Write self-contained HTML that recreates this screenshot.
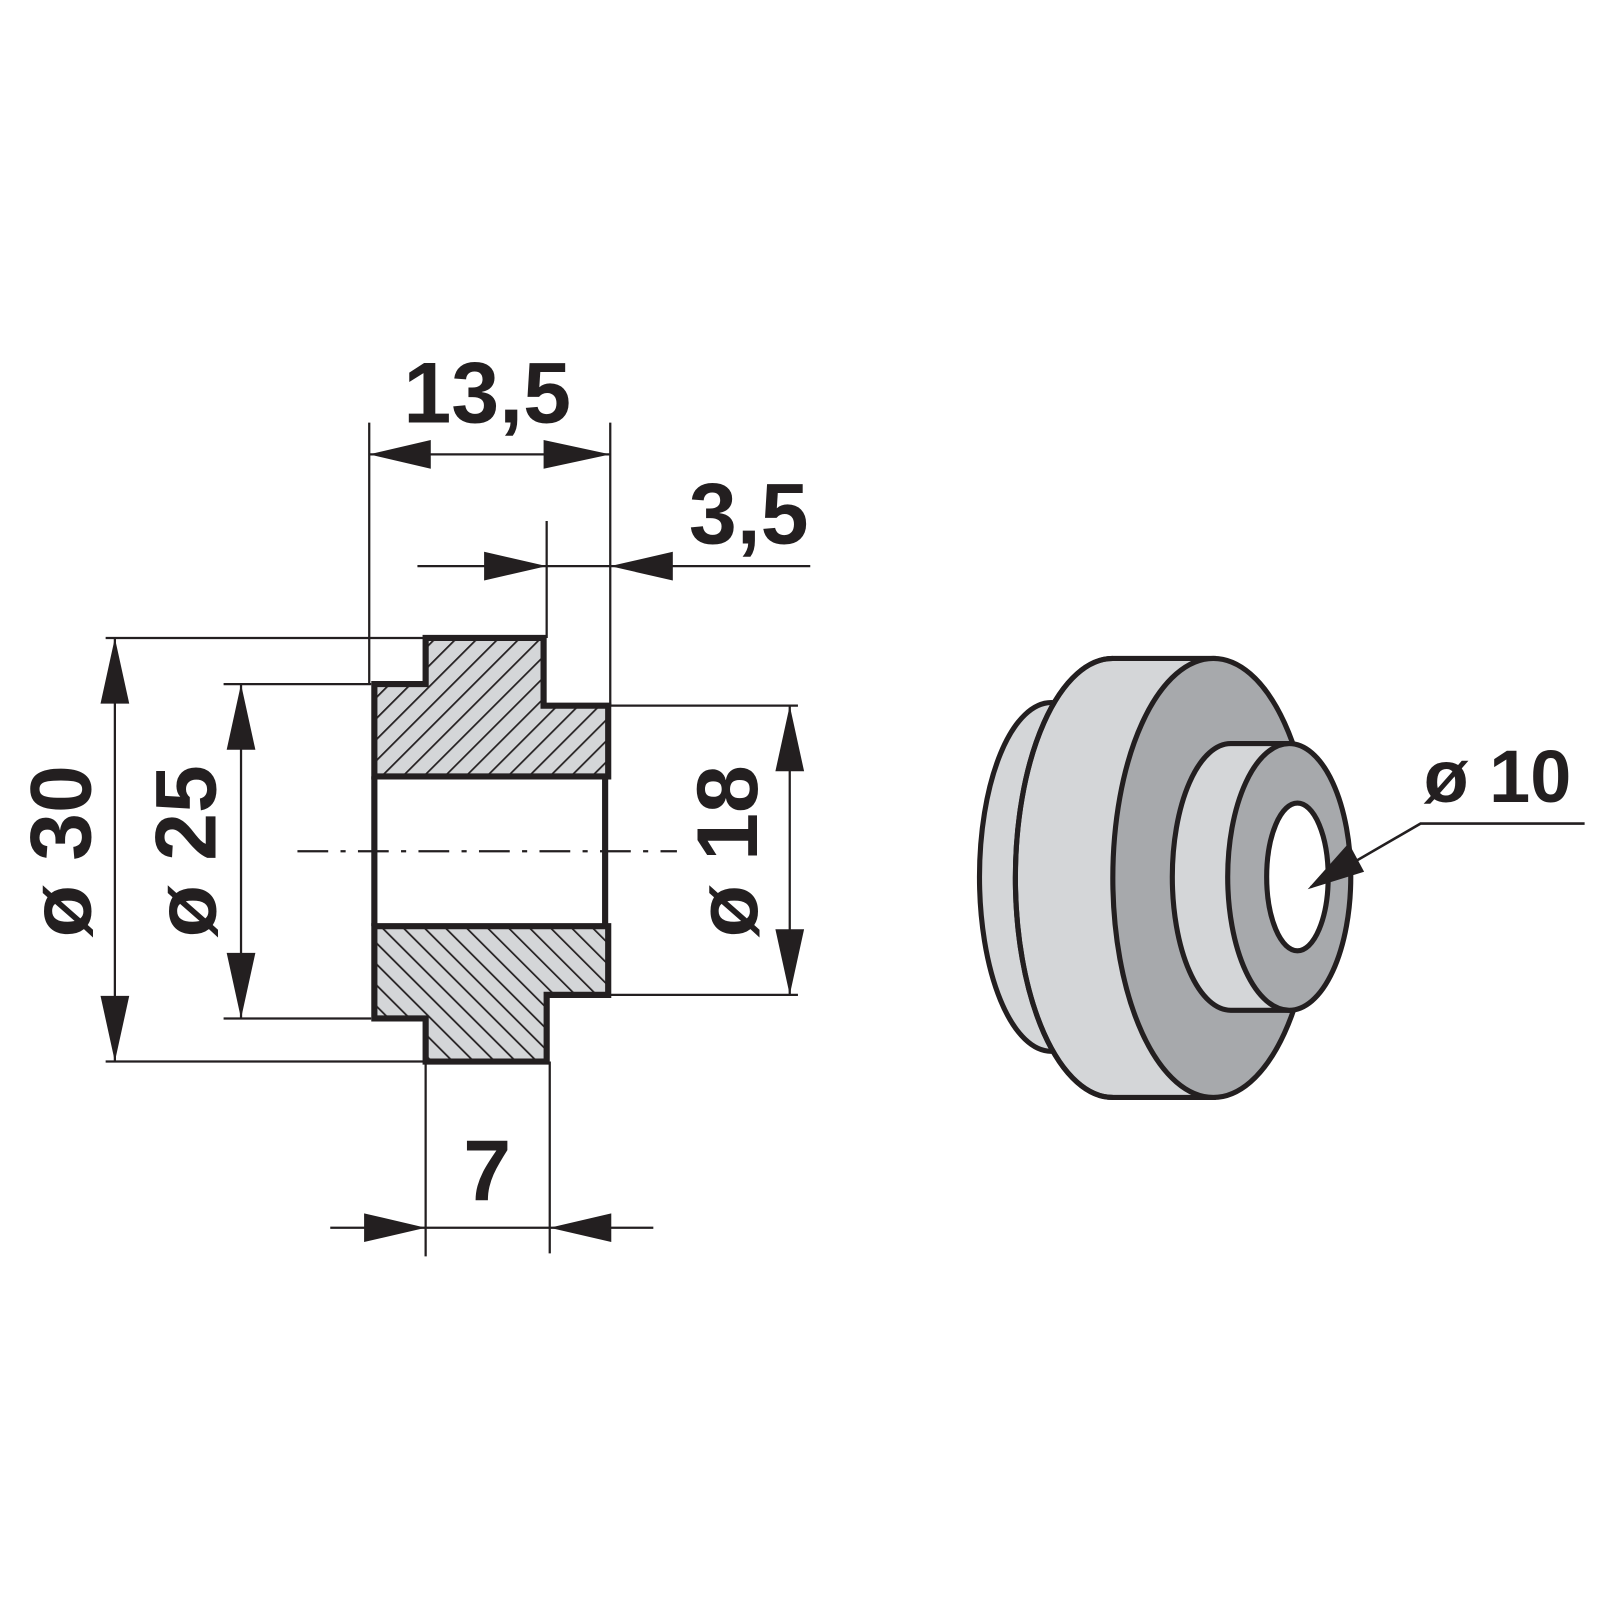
<!DOCTYPE html>
<html><head><meta charset="utf-8"><style>html,body{margin:0;padding:0;background:#fff}svg{display:block}</style></head>
<body>
<svg width="1600" height="1600" viewBox="0 0 1560 1560" xmlns="http://www.w3.org/2000/svg">
<defs>
<pattern id="h1" width="14.5" height="14.5" patternUnits="userSpaceOnUse" patternTransform="rotate(45)">
<rect width="14.5" height="14.5" fill="#d4d6d8"/><line x1="0" y1="0" x2="0" y2="14.5" stroke="#231f20" stroke-width="3.4"/></pattern>
<pattern id="h2" width="14.5" height="14.5" patternUnits="userSpaceOnUse" patternTransform="rotate(-45)">
<rect width="14.5" height="14.5" fill="#d4d6d8"/><line x1="0" y1="0" x2="0" y2="14.5" stroke="#231f20" stroke-width="3.4"/></pattern>
</defs>
<g stroke="#231f20" fill="none" stroke-width="2.2">
<line x1="103" y1="622" x2="415" y2="622"/>
<line x1="103" y1="1035" x2="415" y2="1035"/>
<line x1="218" y1="667" x2="362" y2="667"/>
<line x1="218" y1="993" x2="362" y2="993"/>
<line x1="593" y1="688" x2="778" y2="688"/>
<line x1="593" y1="970" x2="778" y2="970"/>
<line x1="360" y1="412" x2="360" y2="667"/>
<line x1="595" y1="412" x2="595" y2="688"/>
<line x1="533" y1="508" x2="533" y2="622"/>
<line x1="415" y1="1035" x2="415" y2="1225"/>
<line x1="536" y1="1035" x2="536" y2="1222"/>
<line x1="112" y1="622" x2="112" y2="1035"/>
<line x1="235" y1="667" x2="235" y2="993"/>
<line x1="770" y1="688" x2="770" y2="970"/>
<line x1="360" y1="443" x2="595" y2="443"/>
<line x1="407" y1="552" x2="790" y2="552"/>
<line x1="322" y1="1197" x2="637" y2="1197"/>
<line x1="290" y1="830" x2="660" y2="830" stroke-dasharray="30,12,5,12"/>
</g>
<g fill="#231f20">
<polygon points="112,622 98,686 126,686"/><polygon points="112,1035 98,971 126,971"/>
<polygon points="235,667 221,731 249,731"/><polygon points="235,993 221,929 249,929"/>
<polygon points="770,688 756,752 784,752"/><polygon points="770,970 756,906 784,906"/>
<polygon points="360,443 420,429 420,457"/><polygon points="595,443 530,429 530,457"/>
<polygon points="533,552 472,538 472,566"/><polygon points="595,552 656,538 656,566"/>
<polygon points="415,1197 355,1183 355,1211"/><polygon points="536,1197 596,1183 596,1211"/>
</g>
<g stroke="#231f20" stroke-width="6" stroke-linejoin="miter">
<polygon points="415,622 530,622 530,688 593,688 593,757 365,757 365,667 415,667" fill="url(#h1)"/>
<polygon points="365,903 593,903 593,970 533,970 533,1035 415,1035 415,993 365,993" fill="url(#h2)"/>
<line x1="365" y1="757" x2="365" y2="903"/><line x1="590" y1="757" x2="590" y2="903"/>
</g>
<g font-family="Liberation Sans, sans-serif" font-weight="bold" fill="#231f20" font-size="84">
<text x="475" y="412" text-anchor="middle">13,5</text>
<text x="730" y="530" text-anchor="middle">3,5</text>
<text x="475" y="1170" text-anchor="middle">7</text>
<text transform="translate(88,830) rotate(-90)" text-anchor="middle">ø 30</text>
<text transform="translate(210,830) rotate(-90)" text-anchor="middle">ø 25</text>
<text transform="translate(738,830) rotate(-90)" text-anchor="middle">ø 18</text>
<text x="1460" y="782" text-anchor="middle" font-size="72">ø 10</text>
</g>
<g stroke="#231f20" stroke-width="5">
<ellipse cx="1025" cy="855" rx="70" ry="170" fill="#d4d6d8"/>
<path d="M1085,642 A95,214 0 0 0 1085,1070 L1183,1070 L1183,642 Z" fill="#d4d6d8"/>
<path d="M1085,642 A95,214 0 0 0 1085,1070" fill="none"/>
<ellipse cx="1183" cy="856" rx="98" ry="214" fill="#a7a9ac"/>
<path d="M1200,725 A57,130 0 0 0 1200,985 L1257,985 L1257,725 Z" fill="#d4d6d8"/>
<ellipse cx="1257" cy="855" rx="60" ry="130" fill="#a7a9ac"/>
<ellipse cx="1265" cy="855" rx="30" ry="72" fill="#fff"/>
</g>
<g stroke="#231f20" stroke-width="2.5" fill="none">
<polyline points="1545,803 1385,803 1278,865"/>
</g>
<polygon points="1275,867 1315,822 1330,850" fill="#231f20"/>
</svg>
</body></html>
